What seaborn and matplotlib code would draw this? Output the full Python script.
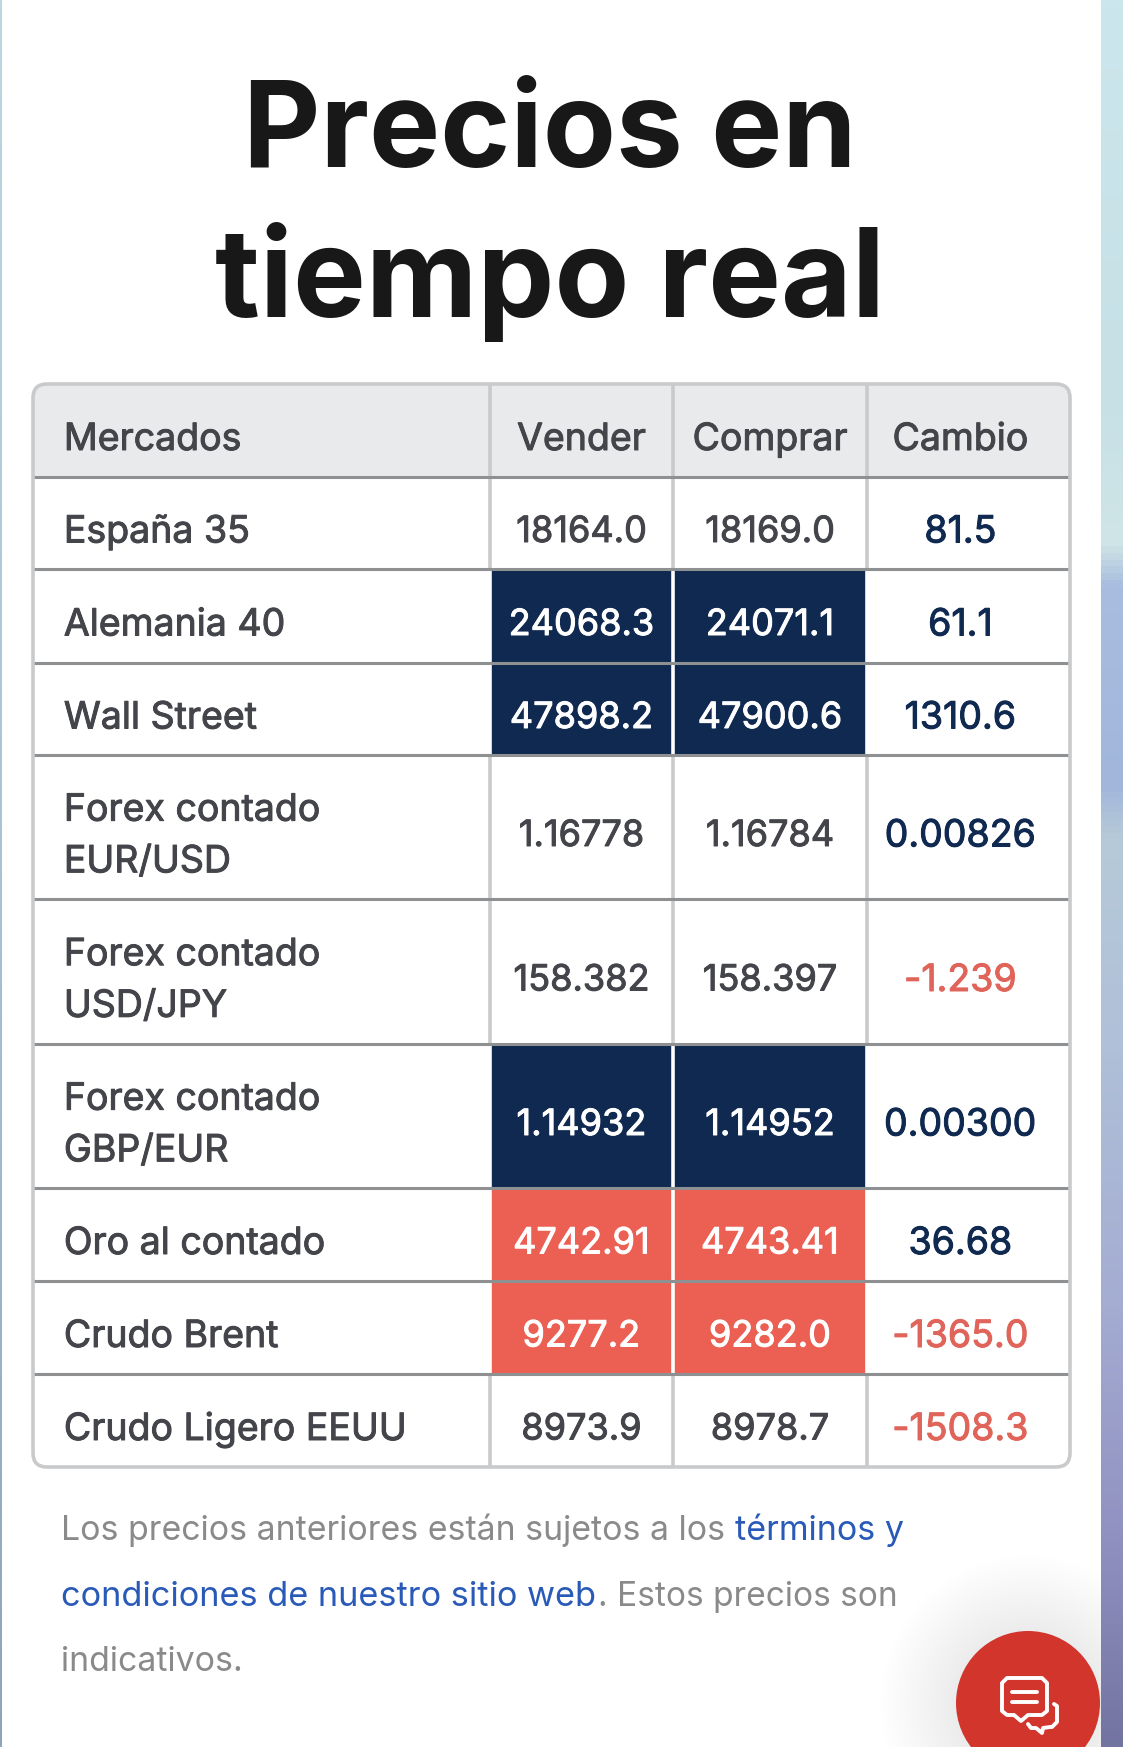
import numpy as np
import pandas as pd
import matplotlib
matplotlib.use('Agg')
import matplotlib.pyplot as plt
import matplotlib.patheffects as pe
import seaborn as sns
from matplotlib.colors import ListedColormap, LinearSegmentedColormap
from matplotlib.patches import Circle, FancyBboxPatch, Polygon

sns.set_theme(style='white')
plt.rcParams['font.family'] = ['Inter', 'DejaVu Sans']

W, H = 1123, 1747

# datos de la tabla
encabezado = ['Mercados', 'Vender', 'Comprar', 'Cambio']
mercados = ['España 35', 'Alemania 40', 'Wall Street', 'Forex contado\nEUR/USD',
            'Forex contado\nUSD/JPY', 'Forex contado\nGBP/EUR', 'Oro al contado',
            'Crudo Brent', 'Crudo Ligero EEUU']
vender = ['18164.0', '24068.3', '47898.2', '1.16778', '158.382', '1.14932',
          '4742.91', '9277.2', '8973.9']
comprar = ['18169.0', '24071.1', '47900.6', '1.16784', '158.397', '1.14952',
           '4743.41', '9282.0', '8978.7']
cambio = ['81.5', '61.1', '1310.6', '0.00826', '-1.239', '0.00300',
          '36.68', '-1365.0', '-1508.3']
# 0 sin cambio, 1 sube (azul), 2 baja (rojo)
estado = [0, 1, 1, 0, 0, 1, 2, 2, 0]

col_px = [33, 490, 673, 867, 1070]
fila_px = [384, 477, 569, 663, 755, 899, 1044, 1188, 1281, 1374, 1467]

NAVY = '#0f2950'
ROJO = '#ec5f53'
TEXTO = '#43454a'
ROJO_TXT = '#e0645a'

etiquetas = pd.DataFrame({'m': [encabezado[0]] + mercados,
                          'v': [encabezado[1]] + vender,
                          'c': [encabezado[2]] + comprar,
                          'd': [encabezado[3]] + cambio})
celdas = pd.DataFrame({'m': [3] + [0] * 9,
                       'v': [3] + estado,
                       'c': [3] + estado,
                       'd': [3] + [0] * 9})

fig = plt.figure(figsize=(W / 100, H / 100), dpi=100, facecolor='white')

# fondo de la captura
fondo = fig.add_axes([0, 0, 1, 1], zorder=0)
tira = LinearSegmentedColormap.from_list('tira', [(0, '#cbe6ec'), (0.22, '#c6e0e6'), (0.31, '#cfe5e6'),
                                                   (0.335, '#a8bddf'), (0.45, '#a2b6dc'), (0.48, '#b6cad8'),
                                                   (0.6, '#b0c0d8'), (0.75, '#a4acd2'), (0.89, '#8f8fbf'),
                                                   (1, '#7274a0')])
tira_izq = LinearSegmentedColormap.from_list('tira_izq', ['#bcd6e2', '#a9c3d3', '#8fa3bb'])
grad = np.linspace(0, 1, 512).reshape(-1, 1)
fondo.imshow(grad, cmap=tira, extent=(1101, W, H, 0), aspect='auto')
fondo.imshow(grad, cmap=tira_izq, extent=(0, 2, H, 0), aspect='auto')
fondo.set_xlim(0, W)
fondo.set_ylim(H, 0)
fondo.axis('off')

# tabla: heatmap con escala a trozos para anchos y altos distintos
ax = fig.add_axes([col_px[0] / W, 1 - fila_px[-1] / H,
                   (col_px[-1] - col_px[0]) / W, (fila_px[-1] - fila_px[0]) / H], zorder=1)
cmap = ListedColormap(['white', NAVY, ROJO, '#e9eaec'])
sns.heatmap(celdas, annot=etiquetas, fmt='', cmap=cmap, vmin=0, vmax=3, cbar=False,
            xticklabels=False, yticklabels=False, ax=ax,
            annot_kws={'fontsize': 27, 'color': TEXTO})

xb = np.arange(len(col_px))
yb = np.arange(len(fila_px))
ax.set_xscale('function', functions=(lambda v: np.interp(v, xb, col_px),
                                     lambda v: np.interp(v, col_px, xb)))
ax.set_yscale('function', functions=(lambda v: np.interp(v, yb, fila_px),
                                     lambda v: np.interp(v, fila_px, yb)))
ax.set_xlim(0, 4)
ax.set_ylim(10, 0)
ax.axis('off')

for t in ax.texts:
    x, y = t.get_position()
    col, fila = int(x), int(y)
    color = TEXTO
    t.set_linespacing(1.56)
    # el texto queda un poco alto en la celda
    alto = fila_px[fila + 1] - fila_px[fila]
    t.set_y(y + 9.5 / alto)
    if col == 0:
        t.set_ha('left')
        t.set_x(0.0675)
        t.set_multialignment('left')
    elif fila > 0 and col in (1, 2):
        t.set_fontsize(26)
        if estado[fila - 1] > 0:
            color = 'white'
    elif fila > 0 and col == 3:
        color = ROJO_TXT if cambio[fila - 1].startswith('-') else NAVY
    if col == 3:
        t.set_x(3.46)
    t.set_color(color)
    # peso medio
    t.set_path_effects([pe.withStroke(linewidth=0.7, foreground=color)])

# lineas de la tabla
for i in range(10):
    c = 'white' if i > 0 and estado[i - 1] > 0 else '#c9cacb'
    ax.vlines(xb[1:-1], i, i + 1, color=c, lw=2.6, zorder=3)
ax.hlines(yb[1:-1], 0, 4, color='#8f9092', lw=2.2, zorder=3)

# borde redondeado
marco = FancyBboxPatch((col_px[0], fila_px[0]), col_px[-1] - col_px[0], fila_px[-1] - fila_px[0],
                       boxstyle='round,pad=0,rounding_size=14', transform=fondo.transData,
                       fc='none', ec='#c9cacb', lw=2.6, zorder=4)
for m in ax.collections:
    m.set_clip_path(marco)
fig.add_artist(marco)

# titulo
fondo.text(550, 167, 'Precios en', ha='center', va='baseline', fontsize=86, fontweight='bold', color='#181818')
fondo.text(550, 317, 'tiempo real', ha='center', va='baseline', fontsize=88, fontweight='bold', color='#181818')

# nota al pie
GRIS = '#8a8a8a'
AZUL = '#2a5ab8'
fondo.text(61, 1540, 'Los precios anteriores están sujetos a los', fontsize=24.4, color=GRIS)
fondo.text(735, 1540, 'términos y', fontsize=24.5, color=AZUL)
fondo.text(61, 1606, 'condiciones de nuestro sitio web', fontsize=24.7, color=AZUL)
fondo.text(598, 1606, '. Estos precios son', fontsize=24.1, color=GRIS)
fondo.text(61, 1671, 'indicativos.', fontsize=24.4, color=GRIS)

# boton de chat
zona = FancyBboxPatch((2, 0), 1099, H, boxstyle='square,pad=0', transform=fondo.transData)
for r in range(76, 150, 4):
    sombra = Circle((1028, 1703), r, fc='black', ec='none', alpha=0.0022, zorder=2)
    fondo.add_patch(sombra)
    sombra.set_clip_path(zona)
fondo.add_patch(Circle((1028, 1703), 72, fc='#d2352b', ec='none', zorder=5))
burbuja = [(1007, 1678), (1042, 1678), (1047, 1683), (1047, 1711), (1042, 1715), (1028, 1715),
           (1021, 1721), (1014, 1715), (1007, 1715), (1002, 1711), (1002, 1683)]
fondo.add_patch(Polygon(burbuja, closed=True, fc='none', ec='white', lw=2.8, joinstyle='round', zorder=6))
fondo.plot([1012, 1037], [1692, 1692], color='white', lw=2.8, zorder=6)
fondo.plot([1012, 1037], [1702, 1702], color='white', lw=2.8, zorder=6)
fondo.plot([1054, 1057, 1057, 1052, 1050, 1043, 1042, 1036, 1031, 1028],
           [1704, 1706, 1722, 1727, 1727, 1728, 1733, 1728, 1728, 1724],
           color='white', lw=2.8, solid_joinstyle='round', zorder=6)
fondo.set_zorder(2)
fondo.patch.set_alpha(0)
ax.set_zorder(1)

fig.savefig('out.png', dpi=100, facecolor='white')
